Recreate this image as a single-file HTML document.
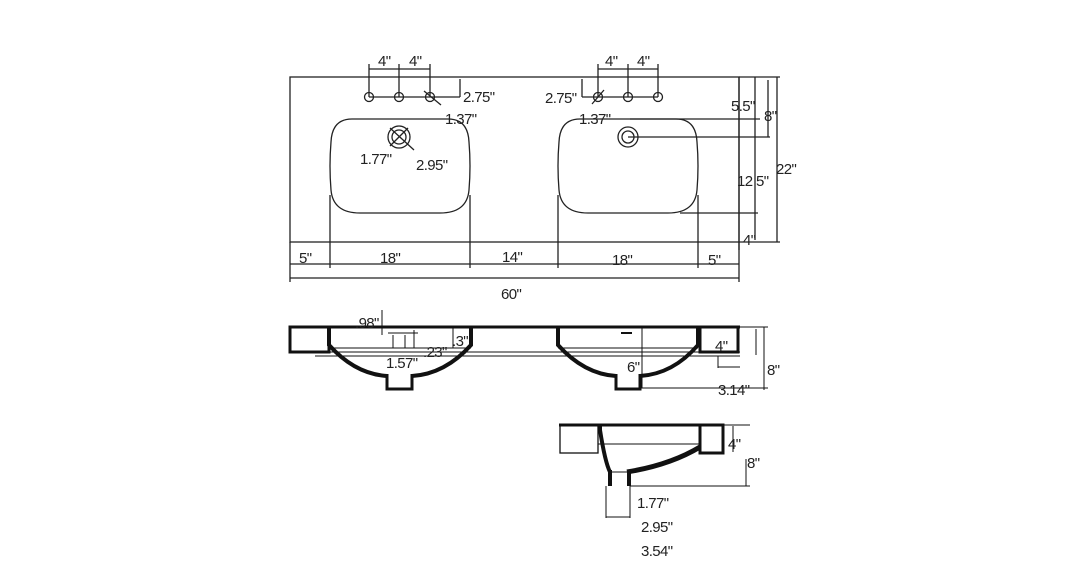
<!DOCTYPE html>
<html><head><meta charset="utf-8"><style>
html,body{margin:0;padding:0;background:#fff;}
svg{display:block}
text{font-family:"Liberation Sans",sans-serif;font-size:15px;fill:#222;letter-spacing:-0.6px;}
</style></head><body>
<svg width="1080" height="580" viewBox="0 0 1080 580" xmlns="http://www.w3.org/2000/svg">
<g stroke="#222" stroke-width="1.3" fill="none">
<rect x="290" y="77" width="449" height="165"/>
<path d="M352 119 H448 Q468 119 469 142 Q471 166 469 190 Q467 213 440 213 H360 Q333 213 331 190 Q329 166 331 142 Q332 119 352 119 Z"/>
<path d="M580 119 H676 Q696 119 697 142 Q699 166 697 190 Q695 213 668 213 H588 Q561 213 559 190 Q557 166 559 142 Q560 119 580 119 Z"/>
<circle cx="369" cy="97" r="4.5"/><circle cx="399" cy="97" r="4.5"/><circle cx="430" cy="97" r="4.5"/>
<circle cx="598" cy="97" r="4.5"/><circle cx="628" cy="97" r="4.5"/><circle cx="658" cy="97" r="4.5"/>
<line x1="424" y1="91" x2="441" y2="105"/><line x1="592" y1="104" x2="604" y2="90"/>
<line x1="369" y1="64" x2="369" y2="97"/><line x1="399" y1="64" x2="399" y2="97"/><line x1="430" y1="64" x2="430" y2="97"/>
<line x1="369" y1="69" x2="430" y2="69"/>
<line x1="598" y1="64" x2="598" y2="97"/><line x1="628" y1="64" x2="628" y2="97"/><line x1="658" y1="64" x2="658" y2="97"/>
<line x1="598" y1="69" x2="658" y2="69"/>
<line x1="369" y1="97" x2="460" y2="97"/><line x1="460" y1="79" x2="460" y2="97"/>
<line x1="582" y1="97" x2="658" y2="97"/><line x1="582" y1="79" x2="582" y2="97"/>
<circle cx="399" cy="137" r="11"/><circle cx="399" cy="137" r="7"/>
<line x1="390" y1="128" x2="414" y2="150"/><line x1="390" y1="146" x2="408" y2="128"/>
<circle cx="628" cy="137" r="10"/><circle cx="628" cy="137" r="6"/>
<line x1="628" y1="137" x2="770" y2="137"/>
<line x1="330" y1="195" x2="330" y2="268"/><line x1="470" y1="195" x2="470" y2="268"/>
<line x1="558" y1="195" x2="558" y2="268"/><line x1="698" y1="195" x2="698" y2="268"/>
<line x1="290" y1="264" x2="739" y2="264"/>
<line x1="290" y1="242" x2="290" y2="282"/><line x1="739" y1="242" x2="739" y2="282"/>
<line x1="290" y1="278" x2="739" y2="278"/>
<line x1="739" y1="77" x2="780" y2="77"/><line x1="739" y1="242" x2="780" y2="242"/>
<line x1="739" y1="77" x2="739" y2="250"/>
<line x1="755" y1="77" x2="755" y2="240"/>
<line x1="768" y1="80" x2="768" y2="137"/>
<line x1="777" y1="77" x2="777" y2="242"/>
<line x1="630" y1="119" x2="760" y2="119"/>
<line x1="680" y1="213" x2="758" y2="213"/>
</g>
<g>
<text x="378" y="66">4"</text><text x="409" y="66">4"</text>
<text x="605" y="66">4"</text><text x="637" y="66">4"</text>
<text x="463" y="102">2.75"</text><text x="545" y="103">2.75"</text>
<text x="445" y="124">1.37"</text><text x="579" y="124">1.37"</text>
<text x="360" y="164">1.77"</text><text x="416" y="170">2.95"</text>
<text x="731" y="111">5.5"</text><text x="764" y="121">8"</text>
<text x="737" y="186">12 5"</text><text x="776" y="174">22"</text>
<text x="743" y="245">4"</text>
<text x="299" y="263">5"</text><text x="380" y="263">18"</text><text x="502" y="262">14"</text>
<text x="612" y="265">18"</text><text x="708" y="265">5"</text>
<text x="501" y="299">60"</text>
</g>
<g stroke="#111" fill="none">
<path d="M289 327 H740" stroke-width="3"/>
<rect x="290" y="327" width="39" height="25" stroke-width="3"/>
<rect x="700" y="327" width="38" height="25" stroke-width="3"/>
<path d="M329 327 V345 Q355 374 387 376 M412 376 Q445 374 471 345 V327" stroke-width="4"/>
<path d="M558 327 V345 Q584 374 616 376 M640 376 Q673 374 698 345 V327" stroke-width="4"/>
<path d="M387 374 V389 H412 V374 M616 374 V389 H640 V374" stroke-width="3"/>
<g stroke-width="1">
<line x1="329" y1="348" x2="471" y2="348"/><line x1="558" y1="348" x2="698" y2="348"/>
<line x1="315" y1="352" x2="740" y2="352"/><line x1="315" y1="356" x2="740" y2="356"/>
<line x1="453" y1="327" x2="453" y2="348"/><line x1="642" y1="327" x2="642" y2="388"/>
<line x1="382" y1="310" x2="382" y2="335"/>
<line x1="388" y1="333" x2="418" y2="333"/><line x1="393" y1="335" x2="393" y2="348"/><line x1="405" y1="335" x2="405" y2="348"/><line x1="414" y1="330" x2="414" y2="348"/>
<line x1="621" y1="333" x2="632" y2="333" stroke-width="2"/>
<line x1="718" y1="356" x2="718" y2="368"/><line x1="718" y1="367" x2="740" y2="367"/>
<line x1="756" y1="329" x2="756" y2="355"/><line x1="764" y1="327" x2="764" y2="390"/>
<line x1="740" y1="327" x2="768" y2="327"/>
<line x1="640" y1="388" x2="768" y2="388"/>
</g>
</g>
<g>
<text x="355" y="328">.98"</text><text x="452" y="346">.3"</text><text x="423" y="357">.23"</text>
<text x="386" y="368">1.57"</text><text x="627" y="372">6"</text>
<text x="715" y="351">4"</text><text x="767" y="375">8"</text><text x="718" y="395">3.14"</text>
</g>
<g stroke="#111" fill="none">
<path d="M559 425 H724" stroke-width="3"/>
<rect x="560" y="425" width="38" height="28" stroke-width="1.3"/>
<rect x="700" y="425" width="23" height="28" stroke-width="3"/>
<path d="M600 425 V430 Q605 462 610 472" stroke-width="4"/>
<path d="M627 472 Q670 465 700 447" stroke-width="5"/>
<path d="M610 470 V486 M629 470 V486" stroke-width="4"/>
<g stroke-width="1">
<line x1="598" y1="444" x2="700" y2="444"/>
<line x1="610" y1="472" x2="628" y2="472"/>
<line x1="606" y1="486" x2="606" y2="518"/><line x1="630" y1="486" x2="630" y2="518"/>
<line x1="606" y1="517" x2="630" y2="517"/>
<line x1="724" y1="425" x2="750" y2="425"/><line x1="630" y1="486" x2="750" y2="486"/>
<line x1="733" y1="426" x2="733" y2="452"/><line x1="746" y1="459" x2="746" y2="486"/>
</g>
</g>
<g>
<text x="728" y="449">4"</text><text x="747" y="468">8"</text>
<text x="637" y="508">1.77"</text><text x="641" y="532">2.95"</text><text x="641" y="556">3.54"</text>
</g>
</svg>
</body></html>
